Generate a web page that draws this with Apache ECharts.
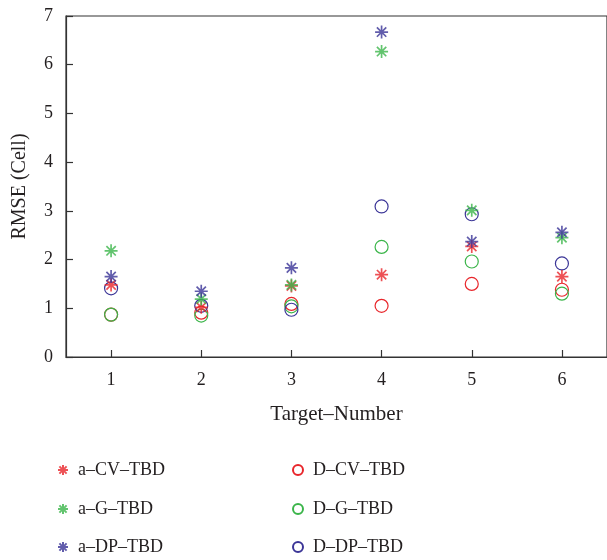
<!DOCTYPE html>
<html>
<head>
<meta charset="utf-8">
<script src="https://cdn.jsdelivr.net/npm/echarts@6/dist/echarts.min.js"></script>
<style>html,body{margin:0;padding:0;background:#fff}#c{width:607px;height:560px}</style>
</head>
<body>
<div id="c"></div>
<script>
const categories = ['1', '2', '3', '4', '5', '6'];
const yTicks = [0, 1, 2, 3, 4, 5, 6, 7];
const aCV = [1.48, 1.02, 1.46, 1.69, 2.27, 1.65];
const aG = [2.18, 1.19, 1.48, 6.27, 3.01, 2.45];
const aDP = [1.65, 1.35, 1.83, 6.67, 2.37, 2.56];
const dCV = [0.87, 0.91, 1.09, 1.05, 1.50, 1.38];
const dG = [0.87, 0.85, 1.04, 2.26, 1.96, 1.30];
const dDP = [1.41, 1.05, 0.97, 3.09, 2.93, 1.92];

const RED = '#e8262b', GREEN = '#3bb54a', BLUE = '#3b3597';
const STAR = 'path://M0,-1L0,1M-1,0L1,0M-0.72,-0.72L0.72,0.72M-0.72,0.72L0.72,-0.72';
const FONT = '"Liberation Serif", "DejaVu Serif", serif';

function starSeries(name, vals, color) {
  return {
    name, type: 'scatter', symbol: STAR, symbolSize: 13,
    itemStyle: { color: color, borderColor: color, borderWidth: 1.7 },
    data: vals.map((v, i) => [categories[i], v]), z: 3
  };
}
function circSeries(name, vals, color) {
  return {
    name, type: 'scatter', symbol: 'circle', symbolSize: 13,
    itemStyle: { color: 'rgba(255,255,255,0)', borderColor: color, borderWidth: 1.2, opacity: 1 },
    data: vals.map((v, i) => [categories[i], v]), z: 2
  };
}
const legendText = { fontFamily: FONT, fontSize: 18, color: '#231f20' };
const legendRows = [
  ['a–CV–TBD', 52, 456], ['a–G–TBD', 52, 495], ['a–DP–TBD', 52, 533],
  ['D–CV–TBD', 287, 456], ['D–G–TBD', 287, 495], ['D–DP–TBD', 287, 533]
];
const chart = echarts.init(document.getElementById('c'));
chart.setOption({
  animation: false,
  backgroundColor: '#fff',
  grid: { left: 66, top: 16, right: -5, bottom: 203, show: true, borderColor: '#333', borderWidth: 1.2, backgroundColor: 'transparent' },
  xAxis: {
    type: 'category', data: categories, boundaryGap: true,
    name: 'Target–Number', nameLocation: 'middle', nameGap: 47,
    nameTextStyle: { fontFamily: FONT, fontSize: 21, color: '#231f20' },
    axisLine: { show: true, lineStyle: { color: '#333', width: 1.2 } },
    axisTick: { show: true, inside: true, alignWithLabel: true, interval: 0, length: 7, lineStyle: { color: '#333', width: 1.2 } },
    axisLabel: { fontFamily: FONT, fontSize: 18, color: '#231f20', margin: 14 },
    splitLine: { show: false }
  },
  yAxis: {
    type: 'value', min: 0, max: 7, interval: 1,
    name: 'RMSE (Cell)', nameLocation: 'middle', nameGap: 36,
    nameTextStyle: { fontFamily: FONT, fontSize: 20, color: '#231f20' },
    axisLine: { show: true, lineStyle: { color: '#333', width: 1.2 } },
    axisTick: { show: true, inside: true, length: 7, lineStyle: { color: '#333', width: 1.2 } },
    axisLabel: { fontFamily: FONT, fontSize: 18, color: '#231f20', margin: 13,
      formatter: v => (yTicks.includes(v) ? String(v) : '') },
    splitLine: { show: false }
  },
  legend: legendRows.map(([name, left, top]) => ({
    orient: 'horizontal', left, top, itemWidth: 20, itemHeight: 10,
    data: [name], textStyle: legendText, selectedMode: false
  })),
  series: [
    circSeries('D–CV–TBD', dCV, RED),
    circSeries('D–G–TBD', dG, GREEN),
    circSeries('D–DP–TBD', dDP, BLUE),
    starSeries('a–CV–TBD', aCV, RED),
    starSeries('a–G–TBD', aG, GREEN),
    starSeries('a–DP–TBD', aDP, BLUE)
  ]
});
</script>
</body>
</html>
